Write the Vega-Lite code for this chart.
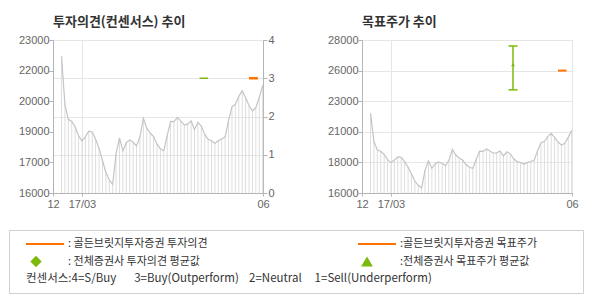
{
  "$schema": "https://vega.github.io/schema/vega-lite/v6.json",
  "background": "white",
  "padding": {"left": 8, "top": 15, "right": 5, "bottom": 5},
  "config": {
    "font": "Liberation Sans",
    "view": {"stroke": "#b4b4b4"},
    "axis": {
      "labelFont": "Liberation Sans",
      "labelFontSize": 11,
      "labelColor": "#666666",
      "domainColor": "#b4b4b4",
      "tickColor": "#b4b4b4",
      "gridColor": "#e6e6e6",
      "titleFont": "Liberation Sans",
      "labelOverlap": false
    },
    "title": {
      "font": "Noto Sans CJK KR",
      "fontSize": 13,
      "fontWeight": "bold",
      "color": "#333333",
      "anchor": "start",
      "frame": "group",
      "offset": 5
    }
  },
  "datasets": {
    "price": [
      {"i": 0, "p": 22250}, {"i": 1, "p": 20040}, {"i": 2, "p": 19370}, {"i": 3, "p": 19270},
      {"i": 4, "p": 19020}, {"i": 5, "p": 18620}, {"i": 6, "p": 18385}, {"i": 7, "p": 18580},
      {"i": 8, "p": 18825}, {"i": 9, "p": 18795}, {"i": 10, "p": 18460}, {"i": 11, "p": 18040},
      {"i": 12, "p": 17500}, {"i": 13, "p": 16940}, {"i": 14, "p": 16600}, {"i": 15, "p": 16400},
      {"i": 16, "p": 17800}, {"i": 17, "p": 18520}, {"i": 18, "p": 17930}, {"i": 19, "p": 18300},
      {"i": 20, "p": 18430}, {"i": 21, "p": 18320}, {"i": 22, "p": 18155}, {"i": 23, "p": 18570},
      {"i": 24, "p": 19420}, {"i": 25, "p": 18975}, {"i": 26, "p": 18745}, {"i": 27, "p": 18585},
      {"i": 28, "p": 18235}, {"i": 29, "p": 18015}, {"i": 30, "p": 17940}, {"i": 31, "p": 18630},
      {"i": 32, "p": 19280}, {"i": 33, "p": 19270}, {"i": 34, "p": 19460}, {"i": 35, "p": 19285},
      {"i": 36, "p": 19120}, {"i": 37, "p": 19150}, {"i": 38, "p": 19300}, {"i": 39, "p": 18910},
      {"i": 40, "p": 19230}, {"i": 41, "p": 19060}, {"i": 42, "p": 18680}, {"i": 43, "p": 18460},
      {"i": 44, "p": 18390}, {"i": 45, "p": 18265}, {"i": 46, "p": 18400}, {"i": 47, "p": 18470},
      {"i": 48, "p": 18570}, {"i": 49, "p": 19320}, {"i": 50, "p": 19940}, {"i": 51, "p": 20060},
      {"i": 52, "p": 20420}, {"i": 53, "p": 20680}, {"i": 54, "p": 20360}, {"i": 55, "p": 20000},
      {"i": 56, "p": 19760}, {"i": 57, "p": 19900}, {"i": 58, "p": 20360}, {"i": 59, "p": 20920}
    ],
    "opinion": [
      {"x": 40.5, "x2": 43, "op": 3, "s": "avg"},
      {"x": 55, "x2": 57.6, "op": 3, "s": "gb"}
    ],
    "target": [
      {"x": 41.8, "lo": 24090, "hi": 27530, "mean": 26070}
    ],
    "gbtarget": [
      {"x": 55, "x2": 57.5, "tp": 25600}
    ],
    "legend": [
      {"c": "L", "r": 1, "t": ": 골든브릿지투자증권 투자의견"},
      {"c": "R", "r": 1, "t": ":골든브릿지투자증권 목표주가"},
      {"c": "L", "r": 2, "t": ": 전체증권사 투자의견 평균값"},
      {"c": "R", "r": 2, "t": ":전체증권사 목표주가 평균값"}
    ]
  },
  "vconcat": [
    {
      "hconcat": [
        {
          "width": 1,
          "height": 153,
          "view": {"stroke": null},
          "data": {"values": []},
          "mark": "point",
          "encoding": {}
        },
        {
          "hconcat": [
            {
              "title": "투자의견(컨센서스) 추이",
              "width": 210,
              "height": 153,
              "layer": [
                {
                  "data": {"name": "price"},
                  "layer": [
                    {
                      "mark": {"type": "rule", "color": "#dddddd", "strokeWidth": 1},
                      "encoding": {
                        "x": {
                          "field": "i", "type": "quantitative",
                          "scale": {"domain": [-2.5, 59.1], "nice": false, "zero": false},
                          "axis": {
                            "values": [-2.5, 6, 59.1], "tickCount": 10,
                            "labelExpr": "datum.value < 0 ? '12' : datum.value < 10 ? '17/03' : '06'",
                            "grid": true, "tickSize": 3, "labelPadding": 2, "title": null,
                            "labelFlush": false, "labelOverlap": false
                          }
                        },
                        "y": {
                          "field": "p", "type": "quantitative",
                          "scale": {"domain": [16000, 23000], "nice": false, "zero": false},
                          "axis": {
                            "orient": "left", "tickCount": 10,
                            "values": [16000, 17400, 18800, 20200, 21600, 23000],
                            "labelExpr": "format(round(datum.value/1000)*1000, 'd')",
                            "grid": false, "tickSize": 4, "labelPadding": 0,
                            "title": null, "labelOverlap": false
                          }
                        },
                        "y2": {"datum": 16000}
                      }
                    },
                    {
                      "mark": {"type": "line", "color": "#c4c4c4", "strokeWidth": 1.2},
                      "encoding": {
                        "x": {"field": "i", "type": "quantitative"},
                        "y": {"field": "p", "type": "quantitative"}
                      }
                    }
                  ]
                },
                {
                  "data": {"name": "opinion"},
                  "mark": {"type": "rule"},
                  "encoding": {
                    "x": {"field": "x", "type": "quantitative"},
                    "x2": {"field": "x2"},
                    "y": {
                      "field": "op", "type": "quantitative",
                      "scale": {"domain": [0, 4], "nice": false, "zero": false},
                      "axis": {
                        "orient": "right", "values": [0, 1, 2, 3, 4], "tickCount": 10, "format": "d",
                        "grid": true, "tickSize": 4, "labelPadding": 1, "title": null,
                        "labelOverlap": false
                      }
                    },
                    "color": {
                      "field": "s", "type": "nominal",
                      "scale": {"domain": ["avg", "gb"], "range": ["#7cb90c", "#ff7200"]},
                      "legend": null
                    },
                    "strokeWidth": {
                      "field": "s", "type": "nominal",
                      "scale": {"domain": ["avg", "gb"], "range": [1.5, 2.5]},
                      "legend": null
                    }
                  }
                }
              ],
              "resolve": {"scale": {"y": "independent"}}
            },
            {
              "title": "목표주가 추이",
              "width": 210,
              "height": 153,
              "layer": [
                {
                  "data": {"name": "price"},
                  "mark": {"type": "rule", "color": "#dddddd", "strokeWidth": 1},
                  "encoding": {
                    "x": {
                      "field": "i", "type": "quantitative",
                      "scale": {"domain": [-2.5, 59.1], "nice": false, "zero": false},
                      "axis": {
                        "values": [-2.5, 6, 59.1], "tickCount": 10,
                        "labelExpr": "datum.value < 0 ? '12' : datum.value < 10 ? '17/03' : '06'",
                        "grid": true, "tickSize": 3, "labelPadding": 2, "title": null,
                        "labelFlush": false, "labelOverlap": false
                      }
                    },
                    "y": {
                      "field": "p", "type": "quantitative",
                      "scale": {"domain": [16000, 28000], "nice": false, "zero": false},
                      "axis": {
                        "orient": "left", "tickCount": 10,
                        "values": [16000, 18400, 20800, 23200, 25600, 28000],
                        "labelExpr": "format(round(datum.value/1000)*1000, 'd')",
                        "grid": true, "tickSize": 4, "labelPadding": 0, "title": null,
                        "labelOverlap": false
                      }
                    },
                    "y2": {"datum": 16000}
                  }
                },
                {
                  "data": {"name": "price"},
                  "mark": {"type": "line", "color": "#c4c4c4", "strokeWidth": 1.2},
                  "encoding": {
                    "x": {"field": "i", "type": "quantitative"},
                    "y": {"field": "p", "type": "quantitative"}
                  }
                },
                {
                  "data": {"name": "target"},
                  "mark": {"type": "rule", "color": "#7cb90c", "strokeWidth": 1.5},
                  "encoding": {
                    "x": {"field": "x", "type": "quantitative"},
                    "y": {"field": "lo", "type": "quantitative"},
                    "y2": {"field": "hi"}
                  }
                },
                {
                  "data": {"name": "target"},
                  "mark": {"type": "tick", "orient": "horizontal", "color": "#7cb90c", "size": 9, "thickness": 1.5, "opacity": 1},
                  "encoding": {
                    "x": {"field": "x", "type": "quantitative"},
                    "y": {"field": "lo", "type": "quantitative"}
                  }
                },
                {
                  "data": {"name": "target"},
                  "mark": {"type": "tick", "orient": "horizontal", "color": "#7cb90c", "size": 9, "thickness": 1.5, "opacity": 1},
                  "encoding": {
                    "x": {"field": "x", "type": "quantitative"},
                    "y": {"field": "hi", "type": "quantitative"}
                  }
                },
                {
                  "data": {"name": "target"},
                  "mark": {"type": "point", "shape": "triangle-up", "filled": true, "color": "#7cb90c", "size": 16, "opacity": 1},
                  "encoding": {
                    "x": {"field": "x", "type": "quantitative"},
                    "y": {"field": "mean", "type": "quantitative"}
                  }
                },
                {
                  "data": {"name": "gbtarget"},
                  "mark": {"type": "rule", "color": "#ff7200", "strokeWidth": 2},
                  "encoding": {
                    "x": {"field": "x", "type": "quantitative"},
                    "x2": {"field": "x2"},
                    "y": {"field": "tp", "type": "quantitative"}
                  }
                }
              ]
            }
          ],
          "spacing": 51
        }
      ],
      "spacing": 7
    },
    {
      "width": 574,
      "height": 63,
      "view": {"stroke": "#d0d0d0", "strokeWidth": 1, "fill": "white"},
      "layer": [
        {
          "data": {"values": [{"c": "L", "r": 1}, {"c": "R", "r": 1}]},
          "mark": {"type": "tick", "orient": "horizontal", "color": "#ff7200", "size": 38, "thickness": 2, "xOffset": 19, "opacity": 1},
          "encoding": {
            "x": {"field": "c", "type": "nominal", "scale": {"type": "point", "domain": ["L", "R"], "range": [17, 349], "padding": 0}, "axis": null},
            "y": {"field": "r", "type": "ordinal", "scale": {"type": "point", "domain": [1, 2, 3], "range": [14, 49], "padding": 0}, "axis": null}
          }
        },
        {
          "data": {"values": [{"c": "L", "r": 2}]},
          "mark": {"type": "point", "shape": "diamond", "filled": true, "color": "#7cb90c", "size": 130, "xOffset": 10, "opacity": 1},
          "encoding": {
            "x": {"field": "c", "type": "nominal"},
            "y": {"field": "r", "type": "ordinal"}
          }
        },
        {
          "data": {"values": [{"c": "R", "r": 2}]},
          "mark": {"type": "point", "shape": "triangle-up", "filled": true, "color": "#7cb90c", "size": 140, "xOffset": 9, "opacity": 1},
          "encoding": {
            "x": {"field": "c", "type": "nominal"},
            "y": {"field": "r", "type": "ordinal"}
          }
        },
        {
          "data": {"name": "legend"},
          "mark": {"type": "text", "align": "left", "baseline": "middle", "dx": 42, "font": "Noto Sans CJK KR", "fontSize": 11, "color": "#333333"},
          "encoding": {
            "x": {"field": "c", "type": "nominal"},
            "y": {"field": "r", "type": "ordinal"},
            "text": {"field": "t"}
          }
        },
        {
          "data": {"values": [{"c": "L", "r": 3, "t": "컨센서스:4=S/Buy\u00a0\u00a0\u00a0\u00a0\u00a0\u00a0\u00a03=Buy(Outperform)\u00a0\u00a0\u00a0\u00a02=Neutral\u00a0\u00a0\u00a0\u00a0\u00a01=Sell(Underperform)"}]},
          "mark": {"type": "text", "align": "left", "baseline": "middle", "font": "Noto Sans CJK KR", "fontSize": 11.5, "color": "#333333"},
          "encoding": {
            "x": {"field": "c", "type": "nominal"},
            "y": {"field": "r", "type": "ordinal"},
            "text": {"field": "t"}
          }
        }
      ]
    }
  ],
  "spacing": 19
}
